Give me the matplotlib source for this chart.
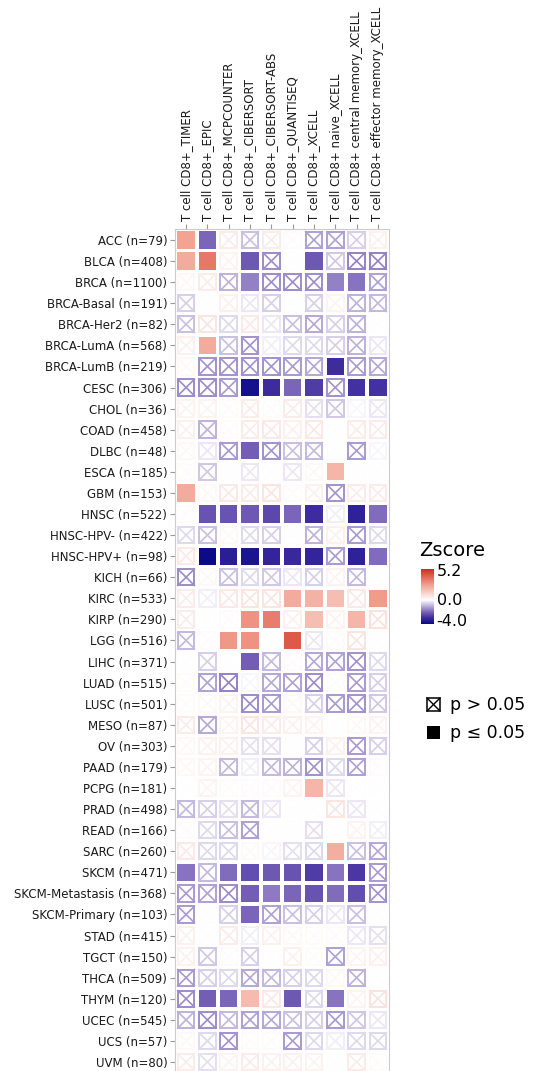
import numpy as np
import matplotlib
matplotlib.use("Agg")
import matplotlib.pyplot as plt
from matplotlib.colors import LinearSegmentedColormap, TwoSlopeNorm
from matplotlib.patches import Rectangle

# cancer types (rows, top to bottom)
cancers = ["ACC (n=79)", "BLCA (n=408)", "BRCA (n=1100)", "BRCA-Basal (n=191)",
           "BRCA-Her2 (n=82)", "BRCA-LumA (n=568)", "BRCA-LumB (n=219)", "CESC (n=306)",
           "CHOL (n=36)", "COAD (n=458)", "DLBC (n=48)", "ESCA (n=185)", "GBM (n=153)",
           "HNSC (n=522)", "HNSC-HPV- (n=422)", "HNSC-HPV+ (n=98)", "KICH (n=66)",
           "KIRC (n=533)", "KIRP (n=290)", "LGG (n=516)", "LIHC (n=371)", "LUAD (n=515)",
           "LUSC (n=501)", "MESO (n=87)", "OV (n=303)", "PAAD (n=179)", "PCPG (n=181)",
           "PRAD (n=498)", "READ (n=166)", "SARC (n=260)", "SKCM (n=471)",
           "SKCM-Metastasis (n=368)", "SKCM-Primary (n=103)", "STAD (n=415)", "TGCT (n=150)",
           "THCA (n=509)", "THYM (n=120)", "UCEC (n=545)", "UCS (n=57)", "UVM (n=80)"]

# methods (columns)
methods = ["T cell CD8+_TIMER", "T cell CD8+_EPIC", "T cell CD8+_MCPCOUNTER",
           "T cell CD8+_CIBERSORT", "T cell CD8+_CIBERSORT-ABS", "T cell CD8+_QUANTISEQ",
           "T cell CD8+_XCELL", "T cell CD8+ naive_XCELL", "T cell CD8+ central memory_XCELL",
           "T cell CD8+ effector memory_XCELL"]

# z-scores
zscore = [
    [2.5, -2.0, 0.5, -0.8, 0.5, 0.1, -1.2, -1.2, -0.6, 0.4],
    [2.3, 3.5, 0.3, -2.2, -1.5, 0.0, -2.2, -0.7, -1.6, -1.6],
    [0.2, 0.5, -1.0, -1.6, -1.5, -1.5, -1.5, -1.6, -1.8, -1.2],
    [-0.6, 0.0, 0.4, -0.3, -0.6, 0.0, -0.6, 0.3, -1.0, -0.9],
    [-0.8, 0.7, -0.5, 0.6, -0.3, -0.8, -1.1, -0.6, -1.0, 0.0],
    [0.4, 2.3, -0.8, -1.4, -0.2, -0.5, -0.5, -0.6, -1.0, -0.3],
    [0.2, -1.4, -1.4, -1.4, -1.4, -1.3, -1.1, -3.0, -1.3, -1.1],
    [-1.5, -1.5, -1.3, -3.8, -3.0, -2.0, -2.7, -1.4, -2.9, -2.9],
    [0.3, 0.3, 0.1, 0.5, 0.1, 0.5, -0.4, -0.7, -0.1, -0.3],
    [0.4, -1.0, 0.1, 0.5, 0.6, 0.4, 0.6, 0.0, 0.5, 0.5],
    [0.2, -0.3, -1.3, -2.1, -1.4, -0.8, -0.9, 0.0, -1.3, -0.1],
    [0.1, -0.7, 0.0, -0.3, 0.0, -0.3, 0.2, 2.0, 0.0, 0.0],
    [2.3, 0.2, 0.6, 0.5, 0.7, 0.1, 0.4, -1.4, 0.5, 0.5],
    [0.1, -2.3, -2.3, -2.2, -2.5, -2.0, -3.0, -0.2, -3.3, -1.9],
    [-0.5, -0.8, 0.2, -0.5, -0.6, 0.0, -1.0, 0.4, -1.3, -0.5],
    [0.6, -4.0, -3.4, -3.7, -3.2, -3.1, -3.2, -1.3, -3.3, -1.9],
    [-1.5, 0.2, -0.8, -0.5, -0.7, -0.3, -0.6, 0.3, -0.9, 0.0],
    [0.5, -0.2, 0.6, 0.7, 0.7, 2.3, 2.1, 1.8, 0.6, 2.7],
    [0.5, 0.0, 0.1, 2.9, 3.4, 0.4, 1.8, 0.3, 2.0, 0.8],
    [-0.9, 0.1, 2.8, 2.9, 0.0, 4.2, -0.3, 0.1, 0.7, 0.0],
    [0.0, -0.6, 0.0, -2.1, -0.9, 0.1, -1.1, -1.2, -1.4, -0.5],
    [0.1, -1.2, -1.6, -0.1, -1.1, -1.2, -1.5, 0.1, -1.3, -0.6],
    [0.1, 0.2, 0.3, -1.5, -1.3, 0.2, -0.6, -1.3, -1.4, -0.7],
    [0.5, -1.1, 0.3, 0.7, 0.5, 0.4, 0.3, 0.0, 0.2, 0.3],
    [0.2, 0.4, 0.4, -0.4, -0.4, 0.0, -0.6, 0.4, -1.3, -0.6],
    [0.2, 0.3, -0.9, -0.2, -0.9, -1.0, -1.4, -0.5, -1.2, 0.1],
    [0.0, 0.3, 0.1, 0.1, 0.1, 0.3, 2.0, -0.3, 0.0, 0.0],
    [-0.9, -0.6, -0.4, -0.9, -0.3, 0.0, 0.0, 0.7, -0.3, 0.0],
    [0.1, -0.5, -0.8, -1.2, 0.0, 0.0, -0.4, 0.0, 0.3, -0.2],
    [0.6, -0.5, -0.5, 0.2, -0.1, -0.4, -0.5, 2.2, -0.8, -1.1],
    [-1.8, -0.9, -1.9, -2.4, -2.2, -2.3, -2.7, -1.8, -2.8, -1.3],
    [-1.3, -1.2, -1.5, -2.1, -1.7, -2.0, -2.3, -1.9, -2.4, -1.4],
    [-1.3, 0.0, -0.6, -2.0, -1.2, -0.8, -0.6, -0.3, -0.8, 0.0],
    [0.4, 0.0, 0.5, -0.2, 0.4, 0.2, 0.1, 0.1, -0.3, -0.4],
    [0.4, -0.7, 0.1, -0.6, 0.0, 0.4, 0.1, -1.2, 0.3, 0.4],
    [-1.3, -0.6, -0.5, -1.1, -0.9, -0.6, -0.5, 0.2, -1.0, 0.0],
    [-1.5, -2.1, -2.0, 1.9, 0.6, -2.2, -0.5, -1.8, 0.3, 0.8],
    [-1.0, -1.5, -0.9, -1.2, -1.1, -0.8, -0.6, -1.3, -0.7, -0.3],
    [0.2, -0.5, -1.4, 0.1, 0.1, -1.3, -0.5, -0.2, -0.5, -0.5],
    [0.5, -0.4, 0.3, 0.5, 0.4, 0.4, 0.3, 0.0, 0.5, 0.1],
]

# 1 = p <= 0.05 (filled square), 0 = p > 0.05 (boxed cross)
signif = ["1100000000", "1101001000", "0001000110", "0000000000", "0000000000",
          "0100000000", "0000000100", "0001111011", "0000000000", "0000000000",
          "0001000000", "0000000100", "1000000000", "0111111011", "0000000000",
          "0111111011", "0000000000", "0000011101", "0001101010", "0011010000",
          "0001000000", "0000000000", "0000000000", "0000000000", "0000000000",
          "0000000000", "0000001000", "0000000000", "0000000000", "0000000100",
          "1011111110", "0001111110", "0001000000", "0000000000", "0000000000",
          "0000000000", "0111010100", "0000000000", "0000000000", "0000000000"]

zmin, zmax = -4.0, 5.2

cmap = LinearSegmentedColormap.from_list(
    "zs", [(0.0, "#0c0a86"), (0.125, "#3e2c9e"), (0.25, "#7a64b8"),
           (0.375, "#bcb0da"), (0.5, "#ffffff"), (0.75, "#f2a090"), (1.0, "#d42e20")])
norm = TwoSlopeNorm(vmin=zmin, vcenter=0.0, vmax=zmax)

fig = plt.figure(figsize=(5.4, 10.71), dpi=100)
ax = fig.add_axes([175 / 540, -2 / 1071, 214 / 540, 844 / 1071])

s = 0.82
b = 0.78  # size of the crossed box
for i, row in enumerate(zscore):
    for j, z in enumerate(row):
        c = cmap(norm(z))
        if signif[i][j] == "1":
            ax.add_patch(Rectangle((j - s / 2, i - s / 2), s, s, facecolor=c, edgecolor="none"))
        else:
            x0, y0 = j - b / 2, i - b / 2
            ax.add_patch(Rectangle((x0, y0), b, b, facecolor="none", edgecolor=c, lw=1.4))
            ax.plot([x0, x0 + b], [y0, y0 + b], color=c, lw=1.2)
            ax.plot([x0, x0 + b], [y0 + b, y0], color=c, lw=1.2)

ax.set_xlim(-0.52, len(methods) - 0.48)
ax.set_ylim(len(cancers) - 0.48, -0.52)
ax.set_xticks(range(len(methods)))
ax.set_xticklabels(methods, rotation=90, fontsize=8.5, color="#1a1a1a")
ax.set_yticks(range(len(cancers)))
ax.set_yticklabels(cancers, fontsize=8.5, color="#1a1a1a")
ax.xaxis.tick_top()
ax.tick_params(axis="both", length=3.5, color="#999999", width=0.8, pad=2)
for sp in ax.spines.values():
    sp.set_color("#cccccc")
    sp.set_linewidth(0.8)

# colourbar legend
fig.text(419 / 540, 1 - 551 / 1071, "Zscore", fontsize=14, va="center", ha="left")
cax = fig.add_axes([421 / 540, 1 - 624 / 1071, 12 / 540, 55 / 1071])
grad = np.linspace(zmin, zmax, 200).reshape(-1, 1)
cax.imshow(grad, cmap=cmap, norm=norm, aspect="auto", origin="lower",
           extent=[0, 1, zmin, zmax])
cax.set_xticks([])
cax.set_yticks([])
for sp in cax.spines.values():
    sp.set_visible(False)
for v, lab in [(4.7, "5.2"), (0.0, "0.0"), (-3.5, "-4.0")]:
    cax.text(1.3, v, lab, fontsize=11.5, va="center", ha="left",
             transform=cax.get_yaxis_transform())

# p-value legend
lax = fig.add_axes([420 / 540, 1 - 765 / 1071, 120 / 540, 70 / 1071])
lax.set_xlim(0, 120)
lax.set_ylim(70, 0)
lax.axis("off")
lax.add_patch(Rectangle((7, 3), 13, 13, facecolor="none", edgecolor="black", lw=1.1))
lax.plot([7, 20], [3, 16], color="black", lw=1.0)
lax.plot([7, 20], [16, 3], color="black", lw=1.0)
lax.text(30, 10, "p > 0.05", fontsize=12.5, va="center", ha="left")
lax.add_patch(Rectangle((7, 31), 13, 13, facecolor="black", edgecolor="none"))
lax.text(30, 37.5, "p \u2264 0.05", fontsize=12.5, va="center", ha="left")

fig.savefig("out.png", dpi=100)
